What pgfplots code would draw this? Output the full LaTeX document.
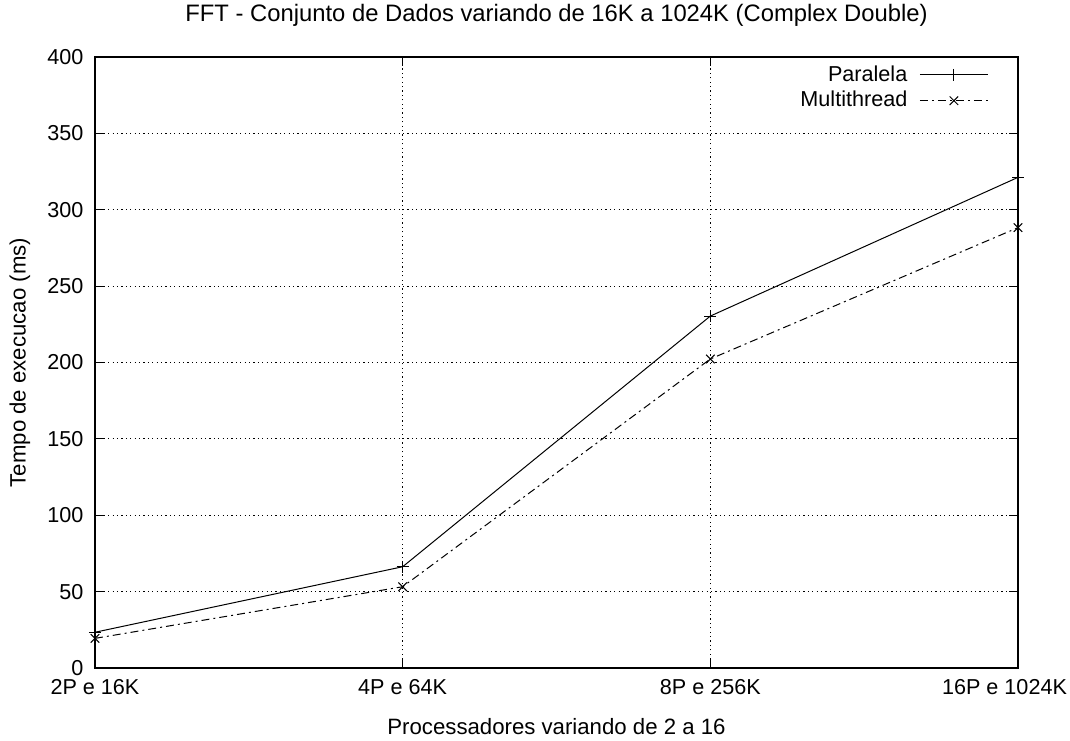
\documentclass[border=0pt]{standalone}
\usepackage{fontspec}
\setmainfont{Liberation Sans}
\usepackage{pgfplots}
\pgfplotsset{compat=1.18}

\begin{document}
\fontsize{10.8}{13}\selectfont
\begin{tikzpicture}
% fixed frame: 1px of the reference = 0.5pt
\useasboundingbox (-47.5pt,-36pt) rectangle (487.5pt,334pt);
\begin{axis}[
  at={(0,0)}, anchor=south west,
  scale only axis,
  width=461.5pt, height=305.5pt,
  xmin=0, xmax=3, ymin=0, ymax=400,
  xtick={0,1,2,3},
  xticklabels={2P e 16K, 4P e 64K, 8P e 256K, 16P e 1024K\hspace*{13.5pt}},
  ytick={0,50,...,400},
  /pgf/number format/assume math mode=true,
  tick align=inside,
  major tick length=4.5pt,
  tick style={black, line width=0.6pt},
  axis line style={line width=1pt},
  grid=major,
  major grid style={black, line width=0.4pt, dash pattern=on 0.6pt off 1.6pt},
  xticklabel style={yshift=-2pt},
  yticklabel style={xshift=-2pt},
  title={FFT - Conjunto de Dados variando de 16K a 1024K (Complex Double)},
  title style={at={(0.5,1)}, anchor=center, yshift=15pt, font=\fontsize{11.9}{14}\selectfont},
  xlabel={Processadores variando de 2 a 16},
  xlabel style={at={(0.5,0)}, anchor=center, yshift=-29.5pt, font=\fontsize{11.1}{13}\selectfont},
  ylabel={Tempo de execucao (ms)},
  ylabel style={at={(axis description cs:-0.0813,0.5)}, anchor=center, font=\fontsize{11.1}{13}\selectfont},
  legend style={draw=none, fill=none, at={(1,1)}, anchor=north east, xshift=-11.5pt, yshift=0pt,
    legend cell align=right, row sep=-0.5pt, font=\fontsize{10.8}{12}\selectfont},
  legend plot pos=right,
  legend image code/.code={\draw[mark repeat=2,mark phase=2,#1] plot coordinates {(0cm,0cm) (0.6cm,0cm) (1.2cm,0cm)};},
]
\addplot[black, line width=0.5pt, mark=+, mark size=3pt, mark options={solid}] coordinates {
  (0,23.4) (1,66.3) (2,230.4) (3,321.2)};
\addlegendentry{Paralela\hspace*{4pt}}
\addplot[black, line width=0.5pt, dash pattern=on 4pt off 2pt on 1pt off 2pt, mark=x, mark size=3pt, mark options={solid}] coordinates {
  (0,19.4) (1,53.2) (2,202.3) (3,288.3)};
\addlegendentry{Multithread\hspace*{4pt}}
\end{axis}
\end{tikzpicture}
\end{document}
